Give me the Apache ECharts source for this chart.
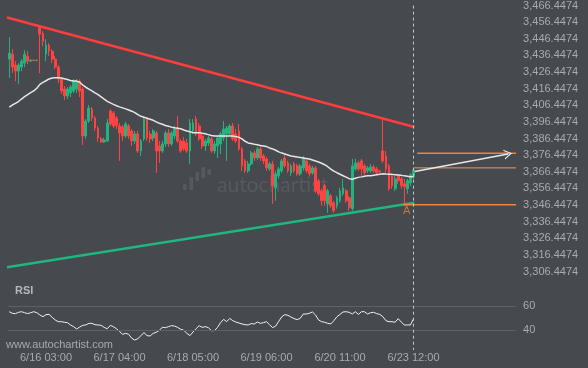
<!DOCTYPE html>
<html>
<head>
<meta charset="utf-8">
<script src="https://cdn.jsdelivr.net/npm/echarts@6/dist/echarts.min.js"></script>
<style>
html,body{margin:0;padding:0;background:#46494e;}
#c{width:588px;height:368px;}
</style>
</head>
<body>
<div id="c"></div>
<script>
// ---------- data ----------
const totalSlots = 166; // candle slots incl. empty projection area
const categories = Array.from({length: totalSlots}, (_, i) => String(i));
const timeTickIndex = [12, 36, 60, 84, 108, 132];
const timeTickLabels = ['6/16 03:00', '6/17 04:00', '6/18 05:00', '6/19 06:00', '6/20 11:00', '6/23 12:00'];
const priceTicks = [3306.4474, 3316.4474, 3326.4474, 3336.4474, 3346.4474, 3356.4474, 3366.4474, 3376.4474,
  3386.4474, 3396.4474, 3406.4474, 3416.4474, 3426.4474, 3436.4474, 3446.4474, 3456.4474, 3466.4474];
const rsiTicks = [40, 60];

// [open, close, low, high]
const candles = [
[3434.2,3437.8,3422.8,3447.4],[3437.2,3429.4,3425.8,3440.2],[3430.6,3427.0,3421.0,3433.0],[3427.0,3430.6,3419.2,3431.8],
[3429.4,3433.0,3427.0,3434.2],[3431.8,3437.2,3429.4,3439.6],[3436.0,3433.0,3431.2,3439.0],[3433.0,3433.6,3432.4,3434.2],
[3433.6,3433.3,3433.0,3433.9],[3433.3,3433.5,3433.0,3434.0],[3453.4,3449.2,3425.8,3454.6],[3449.8,3445.0,3442.0,3451.0],
[3437.2,3442.6,3433.0,3446.2],[3442.6,3439.0,3436.0,3443.8],[3439.0,3434.2,3431.8,3440.2],[3434.2,3429.4,3428.2,3436.0],
[3429.4,3422.2,3419.8,3430.6],[3422.2,3415.0,3413.2,3423.4],[3416.2,3412.0,3409.6,3418.0],[3412.0,3416.2,3410.2,3417.4],
[3413.8,3417.4,3411.4,3418.6],[3415.0,3421.0,3413.8,3422.2],[3416.2,3421.0,3413.8,3422.2],[3421.0,3415.0,3411.4,3422.2],
[3416.2,3388.0,3382.6,3417.4],[3388.0,3397.0,3386.2,3398.2],[3397.0,3404.8,3395.8,3406.6],[3404.2,3398.8,3397.0,3405.4],
[3398.8,3392.8,3391.0,3400.0],[3392.8,3386.8,3384.4,3394.0],[3386.2,3384.4,3383.8,3387.4],[3384.4,3385.6,3383.8,3386.8],
[3385.0,3395.8,3384.4,3398.2],[3403.0,3395.2,3394.0,3404.2],[3401.8,3394.0,3392.8,3403.0],[3398.8,3394.0,3392.2,3400.0],
[3394.0,3389.8,3373.0,3395.8],[3393.4,3388.0,3385.0,3394.6],[3388.0,3395.2,3386.8,3396.4],[3394.0,3388.0,3386.2,3395.2],
[3391.0,3385.0,3382.0,3392.2],[3385.0,3389.2,3383.2,3391.0],[3389.2,3379.0,3377.8,3391.0],[3379.0,3385.0,3376.0,3386.2],
[3386.2,3398.2,3385.0,3399.4],[3398.2,3386.8,3385.0,3399.4],[3389.2,3386.2,3383.8,3391.0],[3386.8,3391.0,3385.0,3392.2],
[3389.8,3379.0,3365.8,3391.0],[3382.0,3379.0,3371.8,3385.0],[3379.0,3383.2,3377.8,3385.0],[3383.2,3389.8,3381.4,3391.0],
[3389.8,3383.2,3381.4,3392.2],[3383.2,3389.8,3382.0,3391.0],[3388.0,3392.2,3386.2,3394.0],[3392.2,3385.0,3383.8,3400.0],
[3385.0,3379.0,3377.8,3386.2],[3385.0,3380.2,3379.0,3387.4],[3383.8,3379.0,3377.8,3386.2],[3379.0,3395.8,3371.2,3398.2],
[3391.0,3395.8,3389.2,3398.2],[3398.2,3389.2,3388.0,3400.0],[3394.0,3386.2,3385.0,3395.8],[3388.0,3382.0,3380.2,3389.2],
[3382.0,3385.0,3379.0,3386.2],[3383.8,3386.8,3382.0,3388.0],[3386.2,3379.0,3377.8,3387.4],[3379.0,3383.2,3377.2,3385.0],
[3382.0,3386.8,3374.8,3388.0],[3383.2,3389.2,3377.2,3390.4],[3386.8,3392.2,3385.0,3397.0],[3389.2,3392.8,3373.0,3394.0],
[3389.2,3394.0,3388.0,3395.2],[3394.0,3386.2,3385.0,3395.8],[3389.2,3385.0,3383.8,3392.2],[3391.0,3380.2,3379.0,3395.2],
[3380.2,3370.0,3367.0,3381.4],[3373.0,3367.0,3365.8,3374.2],[3367.0,3371.2,3365.8,3373.0],[3371.2,3377.8,3370.0,3379.0],
[3377.8,3374.8,3373.0,3379.0],[3374.8,3380.2,3373.6,3381.4],[3380.2,3374.8,3373.0,3382.0],[3376.0,3373.0,3371.2,3377.2],
[3374.2,3368.8,3367.0,3375.4],[3368.2,3371.2,3367.0,3372.4],[3371.2,3358.0,3347.2,3373.0],[3356.8,3365.2,3349.0,3367.0],
[3364.0,3368.2,3362.2,3369.4],[3367.0,3373.0,3365.8,3374.2],[3374.8,3370.0,3368.8,3376.6],[3371.8,3367.0,3365.8,3373.0],
[3365.8,3370.0,3364.0,3371.2],[3371.2,3367.0,3365.8,3372.4],[3370.0,3365.2,3364.0,3371.2],[3365.2,3370.0,3364.0,3371.2],
[3368.8,3374.2,3367.0,3376.0],[3373.0,3367.0,3365.8,3374.2],[3370.0,3365.2,3364.0,3371.2],[3365.8,3368.8,3364.6,3370.0],
[3368.8,3355.0,3353.8,3370.0],[3361.0,3353.2,3352.0,3362.2],[3355.0,3349.0,3346.0,3356.2],[3358.0,3349.0,3346.0,3359.2],
[3347.2,3355.0,3341.8,3356.2],[3352.0,3346.0,3344.8,3353.2],[3347.8,3343.0,3341.8,3349.0],[3346.0,3350.8,3344.2,3352.0],
[3349.0,3355.0,3347.8,3356.8],[3353.2,3356.8,3352.0,3362.2],[3355.0,3349.0,3347.8,3356.2],[3350.8,3344.8,3343.0,3352.0],
[3344.2,3370.0,3343.0,3374.2],[3368.2,3371.8,3367.0,3374.2],[3371.8,3368.2,3367.0,3373.0],[3373.0,3368.2,3364.0,3374.2],
[3370.0,3365.8,3364.6,3371.2],[3367.0,3368.8,3365.8,3370.0],[3367.0,3369.4,3365.8,3371.2],[3369.4,3367.0,3365.8,3370.6],
[3368.2,3365.8,3364.6,3369.4],[3367.0,3366.4,3365.8,3367.6],[3379.0,3373.0,3371.8,3398.2],[3376.0,3368.2,3365.8,3379.0],
[3370.0,3356.2,3355.0,3371.2],[3364.0,3358.0,3356.2,3365.2],[3356.2,3362.2,3355.0,3364.0],[3364.0,3361.0,3359.2,3365.2],
[3362.2,3358.0,3356.2,3363.4],[3359.2,3357.4,3346.6,3362.2],[3356.2,3361.0,3353.2,3362.2],[3359.8,3364.6,3358.0,3365.8],
[3363.4,3367.6,3362.2,3368.8]
];

const maData = [3405.4,3406.6,3407.6,3408.7,3410.2,3411.6,3412.8,3414.0,3415.1,3416.7,
3419.0,3420.2,3421.2,3422.3,3422.9,3423.0,3423.0,3422.8,3422.4,3421.9,
3421.4,3421.0,3421.0,3420.3,3418.6,3417.3,3416.2,3415.1,3413.9,3412.8,
3411.5,3410.1,3408.8,3407.9,3407.0,3406.2,3405.5,3404.9,3404.3,3403.6,
3402.9,3402.0,3400.8,3399.8,3399.2,3398.6,3398.0,3397.4,3396.5,3395.6,
3395.0,3394.3,3393.8,3393.3,3392.9,3392.6,3392.3,3391.6,3391.0,3390.5,
3390.0,3390.0,3390.0,3389.6,3389.3,3388.8,3388.3,3388.0,3388.0,3388.0,
3388.0,3388.0,3388.0,3388.0,3387.6,3387.2,3386.2,3384.8,3383.8,3383.4,
3383.0,3382.7,3382.3,3382.0,3381.6,3380.8,3380.2,3379.4,3378.4,3377.7,
3377.1,3376.5,3375.9,3375.6,3375.3,3375.0,3374.7,3374.4,3374.1,3373.5,
3372.9,3372.3,3371.6,3370.7,3369.5,3368.1,3366.9,3365.9,3365.0,3364.1,
3363.2,3362.3,3362.0,3362.6,3363.1,3363.4,3363.8,3364.0,3364.1,3364.4,
3364.7,3365.0,3365.3,3365.1,3365.0,3364.9,3364.7,3364.5,3364.3,3364.0,
3363.8,3363.4,3363.4];

const rsiData = [55.3,54.0,53.7,54.8,55.3,54.5,53.7,54.5,55.3,54.5,
52.6,51.2,52.9,53.1,50.7,48.5,47.1,47.1,46.6,46.3,
44.4,43.0,41.1,42.7,44.1,44.4,45.7,45.7,44.6,44.4,
44.1,42.4,41.3,44.1,43.0,41.3,39.1,36.7,37.5,36.7,
33.4,32.0,33.1,35.6,38.1,35.6,35.3,37.5,38.3,40.0,
42.4,42.2,43.0,43.8,43.5,42.4,40.8,40.0,37.5,35.6,
38.6,41.3,43.8,42.4,43.0,42.2,39.7,39.7,42.4,46.3,
49.0,47.1,49.8,47.9,46.8,46.0,45.2,44.6,44.4,45.5,
45.2,46.8,45.7,46.3,47.1,44.6,42.2,43.5,47.4,51.2,
52.9,52.3,50.9,49.6,48.8,49.8,53.4,53.4,54.0,55.1,
52.6,48.5,47.1,46.6,45.7,45.2,47.9,51.2,53.1,55.1,
55.3,54.8,53.4,55.3,53.1,55.3,55.3,53.4,54.5,54.8,
53.7,53.1,51.2,47.9,47.1,47.1,46.6,49.6,46.8,44.4,
44.4,44.4,49.5];

// pattern lines  [slot position, price]
const resistanceLine = [[-0.73, 3459.2], [132.3, 3393.4]];
const supportLine = [[-0.73, 3309.0], [132.3, 3347.8]];
const targetLevel = [[133.2, 3377.6], [165.5, 3377.6]];
const closeLevel = [[132.2, 3368.8], [165.5, 3368.8]];
const pointALevel = [[128.6, 3346.6], [165.5, 3346.6]];
const pointALabel = [[129.8, 3342.6]];
const projection = [[132.4, 3366.6], [162.9, 3377.2]];
const lastIndex = 132;

// ---------- chart ----------
const FONT = '"Liberation Sans", Arial, sans-serif';
const TXT = '#a7abb0';
const W = 3.0625;
const gridLeft = 7.72;
const gridWidth = totalSlots * W;

const chart = echarts.init(document.getElementById('c'), null, {renderer: 'canvas'});

function fmtPrice(v) {
  return Number(v).toLocaleString('en-US', {minimumFractionDigits: 4, maximumFractionDigits: 4});
}

const option = {
  backgroundColor: '#46494e',
  animation: false,
  textStyle: {fontFamily: FONT},
  grid: [
    {left: gridLeft, top: 0, width: gridWidth, height: 282.3},
    {left: gridLeft, top: 281.7, width: gridWidth, height: 72.9}
  ],
  xAxis: [
    {type: 'category', gridIndex: 0, data: categories, boundaryGap: true,
      axisLine: {show: false}, axisTick: {show: false}, splitLine: {show: false},
      axisLabel: {
        margin: 70.5, color: TXT, fontSize: 11, fontFamily: FONT,
        interval: (idx) => timeTickIndex.indexOf(idx) >= 0,
        formatter: (val, idx) => {
          const k = timeTickIndex.indexOf(Number(val));
          return k >= 0 ? timeTickLabels[k] : '';
        }
      }},
    {type: 'value', gridIndex: 0, min: -0.5, max: totalSlots - 0.5, show: false},
    {type: 'category', gridIndex: 1, data: categories, boundaryGap: true, show: false}
  ],
  yAxis: [
    {type: 'value', gridIndex: 0, min: 3300, max: 3469, position: 'right',
      axisLine: {show: false}, axisTick: {show: false}, splitLine: {show: false},
      axisLabel: {customValues: priceTicks, margin: 7, color: TXT, fontSize: 11, fontFamily: FONT,
        formatter: fmtPrice}},
    {type: 'value', gridIndex: 1, min: 20, max: 80, position: 'right',
      axisLine: {show: false}, axisTick: {show: false}, splitLine: {show: false},
      axisLabel: {customValues: rsiTicks, margin: 7, color: TXT, fontSize: 11, fontFamily: FONT}}
  ],
  series: [
    {type: 'line', xAxisIndex: 1, yAxisIndex: 0, data: resistanceLine, symbol: 'none', clip: false,
      lineStyle: {color: '#ff3d3d', width: 2.5}, silent: true},
    {type: 'line', xAxisIndex: 1, yAxisIndex: 0, data: supportLine, symbol: 'none', clip: false,
      lineStyle: {color: '#1fb67f', width: 2.5}, silent: true},
    {type: 'candlestick', xAxisIndex: 0, yAxisIndex: 0, data: candles, barWidth: 2.3,
      itemStyle: {color: '#22b37f', color0: '#ff4242', borderColor: '#22b37f', borderColor0: '#ff4242', borderWidth: 1},
      markLine: {silent: true, symbol: 'none', label: {show: false},
        lineStyle: {color: '#c4c6c9', type: [3, 3], width: 1},
        data: [[{coord: [lastIndex, 3466.4]}, {coord: [lastIndex, 3300]}]]}},
    {type: 'line', xAxisIndex: 0, yAxisIndex: 0, data: maData, symbol: 'none',
      lineStyle: {color: '#e6e6e6', width: 1.5}, silent: true},
    {type: 'line', xAxisIndex: 1, yAxisIndex: 0, data: targetLevel, symbol: 'none', clip: false,
      lineStyle: {color: '#f2843a', width: 1.5}, silent: true,
      markLine: {silent: true, symbol: ['none', 'path://M0,10 L5,0 L10,10 L8.6,10 L5,2.8 L1.4,10 Z'],
        symbolSize: [10, 8], label: {show: false},
        lineStyle: {color: '#e8e8e8', width: 1.5, type: 'solid'},
        data: [[{coord: projection[0]}, {coord: projection[1]}]]}},
    {type: 'line', xAxisIndex: 1, yAxisIndex: 0, data: closeLevel, symbol: 'none', clip: false,
      lineStyle: {color: '#e99a6c', width: 1}, silent: true},
    {type: 'line', xAxisIndex: 1, yAxisIndex: 0, data: pointALevel, symbol: 'none', clip: false,
      lineStyle: {color: '#f2843a', width: 1.5}, silent: true},
    {type: 'scatter', xAxisIndex: 1, yAxisIndex: 0, data: pointALabel, symbolSize: 1,
      itemStyle: {color: 'rgba(0,0,0,0)'}, silent: true,
      label: {show: true, position: 'inside', formatter: 'A', color: '#e0824a', fontSize: 11, fontFamily: FONT}},
    {type: 'line', xAxisIndex: 2, yAxisIndex: 1, data: rsiData, symbol: 'none',
      lineStyle: {color: '#f0f0f0', width: 1}, silent: true,
      markLine: {silent: true, symbol: 'none', label: {show: false}, data: [
        {yAxis: 40, lineStyle: {color: '#5d6166', width: 1, type: 'solid'}},
        {yAxis: 60, lineStyle: {color: '#5d6166', width: 1, type: 'solid'}},
        [{coord: [lastIndex, 80], lineStyle: {color: '#c4c6c9', type: [3, 3], width: 1}}, {coord: [lastIndex, 23.8]}]
      ]}}
  ],
  graphic: [
    {type: 'text', left: 15, top: 285, style: {text: 'RSI', fill: '#b4b8bc', font: 'bold 11px ' + FONT}},
    {type: 'text', left: 6, top: 339, style: {text: 'www.autochartist.com', fill: '#a7abb0', font: '11px ' + FONT}},
    {type: 'group', silent: true, children: [
      {type: 'rect', shape: {x: 183, y: 184, width: 3.5, height: 6, r: 1}, style: {fill: '#565a5f'}},
      {type: 'rect', shape: {x: 189.5, y: 177, width: 3.5, height: 13, r: 1}, style: {fill: '#565a5f'}},
      {type: 'rect', shape: {x: 195.5, y: 172, width: 3.5, height: 9, r: 1}, style: {fill: '#565a5f'}},
      {type: 'rect', shape: {x: 201.5, y: 167, width: 3.5, height: 11, r: 1}, style: {fill: '#565a5f'}},
      {type: 'rect', shape: {x: 207.5, y: 169, width: 3.5, height: 6, r: 1}, style: {fill: '#565a5f'}},
      {type: 'text', x: 217, y: 175, style: {text: 'autochartist', fill: '#565a5f', font: '21px Lato, ' + FONT}}
    ]}
  ]
};
chart.setOption(option);
</script>
</body>
</html>
